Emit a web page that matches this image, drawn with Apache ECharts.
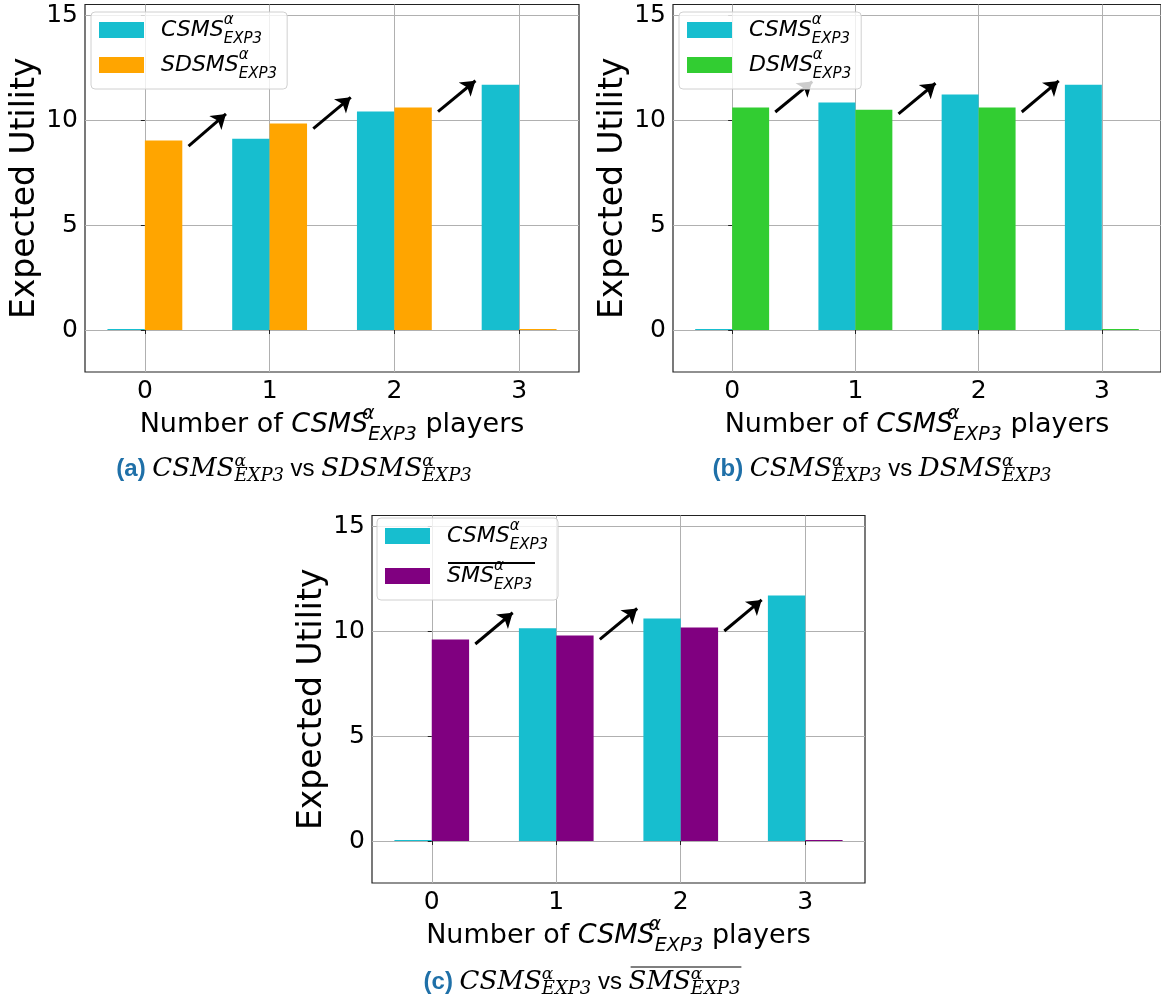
<!DOCTYPE html>
<html><head><meta charset="utf-8">
<script src="https://cdn.jsdelivr.net/npm/echarts@6/dist/echarts.min.js"></script>
<style>html,body{margin:0;padding:0;background:#fff}#c{width:1161px;height:1000px}</style>
</head><body><div id="c"></div>
<script>
// ---- data ----
const positions = [0, 1, 2, 3];
const xTickLabels = ['0', '1', '2', '3'];
const yTicks = [0, 5, 10, 15];
const csmsA = [0, 9.11, 10.40, 11.68];
const sdsmsA = [9.02, 9.83, 10.59, 0];
const csmsB = [0, 10.83, 11.21, 11.68];
const dsmsB = [10.59, 10.49, 10.59, 0];
const csmsC = [0, 10.13, 10.60, 11.69];
const smsC = [9.60, 9.79, 10.17, 0];
const arrowX0 = [0.35, 1.35, 2.35];
const arrowX1 = [0.65, 1.65, 2.65];
const arrowY0A = [8.76, 9.59, 10.40];
const arrowY1A = [10.29, 11.08, 11.87];
const arrowY0B = [10.38, 10.29, 10.38];
const arrowY1B = [11.83, 11.75, 11.86];
const arrowY0C = [9.38, 9.60, 10.00];
const arrowY1C = [10.87, 11.07, 11.48];

const COLORS = {cyan: '#17becf', orange: '#ffa500', green: '#32cd32', purple: '#800080'};
const FONT = 'DejaVu Sans';

const legendNames = {
  CSMS_a: '{it|CSMS}{sup|α}{sub|EXP3}',
  SDSMS_a: '{it|SDSMS}{sup|α}{sub|EXP3}',
  CSMS_b: '{it|CSMS}{sup|α}{sub|EXP3}',
  DSMS_b: '{it|DSMS}{sup|α}{sub|EXP3}',
  CSMS_c: '{it|CSMS}{sup|α}{sub|EXP3}',
  SMS_c: '{it|SMS}{sup|α}{sub|EXP3}'
};

const legendRich = {
  it: {fontFamily: FONT, fontStyle: 'italic', fontSize: 22, lineHeight: 34, color: '#000', verticalAlign: 'middle'},
  sup: {fontFamily: FONT, fontStyle: 'italic', fontSize: 15, lineHeight: 22, color: '#000', verticalAlign: 'top', width: 0},
  sub: {fontFamily: FONT, fontStyle: 'italic', fontSize: 15, lineHeight: 16, color: '#000', verticalAlign: 'bottom'}
};
const nameRich = {
  n: {fontFamily: FONT, fontSize: 27, lineHeight: 40, color: '#000', verticalAlign: 'middle'},
  it: {fontFamily: FONT, fontStyle: 'italic', fontSize: 27, lineHeight: 40, color: '#000', verticalAlign: 'middle'},
  sup: {fontFamily: FONT, fontStyle: 'italic', fontSize: 19, lineHeight: 24, color: '#000', verticalAlign: 'top', width: 0},
  sub: {fontFamily: FONT, fontStyle: 'italic', fontSize: 19, lineHeight: 20, color: '#000', verticalAlign: 'bottom'}
};
const capRich = {
  b: {fontFamily: 'Liberation Sans', fontWeight: 'bold', fontSize: 24, lineHeight: 32, color: '#1f70a8', verticalAlign: 'middle'},
  v: {fontFamily: 'Liberation Sans', fontWeight: 'normal', fontSize: 24, lineHeight: 32, color: '#000', verticalAlign: 'middle'},
  m: {fontFamily: 'DejaVu Serif', fontWeight: 'normal', fontStyle: 'italic', fontSize: 26, lineHeight: 32, color: '#000', verticalAlign: 'middle'},
  sup: {fontFamily: 'DejaVu Serif', fontWeight: 'normal', fontStyle: 'italic', fontSize: 17, lineHeight: 20, color: '#000', verticalAlign: 'top', width: 0},
  sub: {fontFamily: 'DejaVu Serif', fontWeight: 'normal', fontStyle: 'italic', fontSize: 18, lineHeight: 14, color: '#000', verticalAlign: 'bottom'}
};
const capFonts = {
  b: 'bold 24px "Liberation Sans"', v: '24px "Liberation Sans"',
  m: 'italic 26px "DejaVu Serif"', sub: 'italic 18px "DejaVu Serif"'
};
const capTokens = [
  [['b', '(a) '], ['m', 'CSMS'], ['sup', 'α'], ['sub', 'EXP3'], ['v', ' vs '], ['m', 'SDSMS'], ['sup', 'α'], ['sub', 'EXP3']],
  [['b', '(b) '], ['m', 'CSMS'], ['sup', 'α'], ['sub', 'EXP3'], ['v', ' vs '], ['m', 'DSMS'], ['sup', 'α'], ['sub', 'EXP3']],
  [['b', '(c) '], ['m', 'CSMS'], ['sup', 'α'], ['sub', 'EXP3'], ['v', ' vs '], ['m', 'SMS'], ['sup', 'α'], ['sub', 'EXP3']]
];
const capCenters = [[294, 453], [882, 453], [582, 966]];

const mctx = document.createElement('canvas').getContext('2d');
function tokW(k, s) { if (k === 'sup') return 0; mctx.font = capFonts[k]; return mctx.measureText(s).width; }
const capLayout = capTokens.map((toks, i) => {
  const widths = toks.map(([k, s]) => tokW(k, s));
  const total = widths.reduce((a, b) => a + b, 0);
  const left = capCenters[i][0] - total / 2;
  const overStart = left + widths.slice(0, 5).reduce((a, b) => a + b, 0);
  return {text: toks.map(([k, s]) => '{' + k + '|' + s + '}').join(''), left, top: capCenters[i][1], overStart, overEnd: left + total};
});

const grids = [
  {left: 85, top: 4.5, width: 494, height: 367.5},
  {left: 673, top: 4.5, width: 494, height: 367.5},
  {left: 372, top: 515.5, width: 493, height: 367.5}
];

function xAxisFor(i) {
  return {
    type: 'value', gridIndex: i, min: -0.48, max: 3.48,
    axisLine: {show: false},
    axisTick: {show: true, customValues: positions, length: 4, lineStyle: {color: '#222'}},
    axisLabel: {customValues: positions, formatter: v => xTickLabels[positions.indexOf(v)],
      fontFamily: FONT, fontSize: 25, color: '#000', margin: 7},
    splitLine: {show: true, lineStyle: {color: '#b0b0b0', width: 1}},
    name: '{n|Number of }{it|CSMS}{sup|α}{sub|EXP3}{n| players}',
    nameLocation: 'middle', nameGap: 22,
    nameTextStyle: {rich: nameRich}
  };
}
function yAxisFor(i) {
  return {
    type: 'value', gridIndex: i, min: -2, max: 15.5,
    axisLine: {show: false},
    axisTick: {show: true, customValues: yTicks, length: 4, lineStyle: {color: '#222'}},
    axisLabel: {customValues: yTicks, fontFamily: FONT, fontSize: 25, color: '#000', margin: 7},
    splitLine: {show: true, lineStyle: {color: '#b0b0b0', width: 1}},
    name: 'Expected Utility', nameLocation: 'middle', nameGap: 41,
    nameTextStyle: {fontFamily: FONT, fontSize: 33, color: '#000'}
  };
}
function barSeries(name, vals, color, i) {
  return {
    type: 'bar', name, xAxisIndex: i, yAxisIndex: i,
    data: positions.map((x, k) => [x, vals[k]]),
    barWidth: '30%', barGap: '0%', barMinHeight: 1,
    itemStyle: {color}, silent: true
  };
}
function arrowSeries(y0, y1, i) {
  return {
    type: 'lines', coordinateSystem: 'cartesian2d', xAxisIndex: i, yAxisIndex: i,
    data: arrowX0.map((x, k) => ({coords: [[x, y0[k]], [arrowX1[k], y1[k]]]})),
    symbol: ['none', 'arrow'], symbolSize: 14,
    lineStyle: {color: '#000', width: 3, opacity: 1}, z: 3, silent: true
  };
}
function legendFor(names, left, top, gap) {
  return {
    data: names, left, top, orient: 'vertical', icon: 'rect',
    itemWidth: 45, itemHeight: 16, itemGap: gap,
    padding: [1, 10, 7, 8], selectedMode: false,
    backgroundColor: 'rgba(255,255,255,0.8)', borderColor: '#d0d0d0', borderWidth: 1, borderRadius: 4,
    formatter: n => legendNames[n],
    textStyle: {rich: legendRich, padding: [0, 0, 0, 12]}
  };
}

const chart = echarts.init(document.getElementById('c'), null, {renderer: 'canvas'});
chart.setOption({
  animation: false,
  grid: grids.map(g => Object.assign({show: true, borderColor: '#222', borderWidth: 1.2, backgroundColor: 'transparent'}, g)),
  xAxis: [0, 1, 2].map(xAxisFor),
  yAxis: [0, 1, 2].map(yAxisFor),
  legend: [
    legendFor(['CSMS_a', 'SDSMS_a'], 91, 12, 1),
    legendFor(['CSMS_b', 'DSMS_b'], 679, 12, 1),
    legendFor(['CSMS_c', 'SMS_c'], 377, 518, 6)
  ],
  title: capLayout.map(c => ({
    text: c.text, left: c.left, top: c.top, padding: 0,
    textStyle: {fontWeight: 'normal', rich: capRich}
  })),
  graphic: [
    {type: 'line', shape: {x1: 448, y1: 563, x2: 535, y2: 563}, style: {stroke: '#000', lineWidth: 2}, z: 100},
    {type: 'line', shape: {x1: capLayout[2].overStart + 2, y1: 967, x2: capLayout[2].overEnd + 1, y2: 967}, style: {stroke: '#000', lineWidth: 1.2}, z: 100}
  ],
  series: [
    barSeries('CSMS_a', csmsA, COLORS.cyan, 0),
    barSeries('SDSMS_a', sdsmsA, COLORS.orange, 0),
    arrowSeries(arrowY0A, arrowY1A, 0),
    barSeries('CSMS_b', csmsB, COLORS.cyan, 1),
    barSeries('DSMS_b', dsmsB, COLORS.green, 1),
    arrowSeries(arrowY0B, arrowY1B, 1),
    barSeries('CSMS_c', csmsC, COLORS.cyan, 2),
    barSeries('SMS_c', smsC, COLORS.purple, 2),
    arrowSeries(arrowY0C, arrowY1C, 2)
  ]
});
</script></body></html>
